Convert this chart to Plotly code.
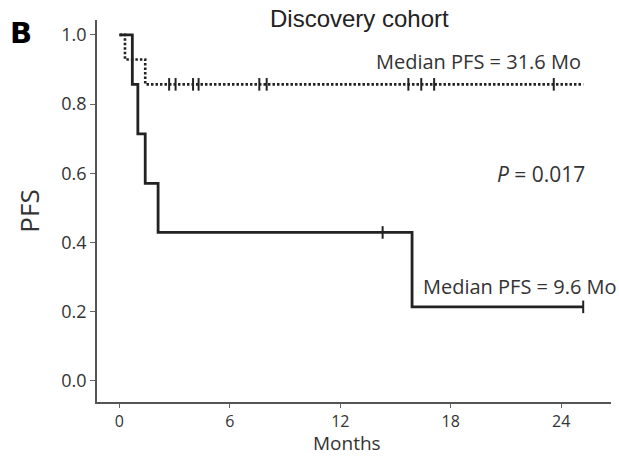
import plotly.graph_objects as go

# Kaplan-Meier step data (months, PFS)
solid_times = [0, 0.7, 1.0, 1.4, 2.1, 15.9, 25.2]
solid_surv = [1.0, 0.857, 0.714, 0.571, 0.429, 0.214, 0.214]
solid_censor_times = [14.3, 25.2]
solid_censor_surv = [0.429, 0.214]

dotted_times = [0, 0.3, 1.4, 25.2]
dotted_surv = [1.0, 0.929, 0.857, 0.857]
dotted_censor_times = [2.7, 3.05, 4.0, 4.3, 7.6, 8.0, 15.7, 16.4, 17.1, 23.6]
dotted_censor_surv = [0.857] * len(dotted_censor_times)

x_ticks = [0, 6, 12, 18, 24]
y_ticks = [0.0, 0.2, 0.4, 0.6, 0.8, 1.0]

FONT = "Open Sans"
INK = "#222222"

fig = go.Figure()
fig.add_trace(go.Scatter(x=dotted_times, y=dotted_surv, mode="lines", line_shape="hv",
                         line=dict(color=INK, width=2.6, dash="2.5px,2px"), showlegend=False))
fig.add_trace(go.Scatter(x=dotted_censor_times, y=dotted_censor_surv, mode="markers",
                         marker=dict(symbol="line-ns-open", size=9, color=INK,
                                     line=dict(color=INK, width=2)),
                         showlegend=False))
fig.add_trace(go.Scatter(x=solid_times, y=solid_surv, mode="lines", line_shape="hv",
                         line=dict(color=INK, width=2.8), showlegend=False))
fig.add_trace(go.Scatter(x=solid_censor_times, y=solid_censor_surv, mode="markers",
                         marker=dict(symbol="line-ns-open", size=9, color=INK,
                                     line=dict(color=INK, width=2)),
                         showlegend=False))

fig.update_layout(
    width=619, height=456,
    margin=dict(l=97, r=8, t=20, b=54),
    paper_bgcolor="white", plot_bgcolor="white",
    font=dict(family=FONT, color="#333333"),
    xaxis=dict(range=[-1.22, 26.71], tickvals=x_ticks, ticktext=[str(v) for v in x_ticks],
               automargin=False,
               showline=True, linecolor="#555555", linewidth=1.5, showgrid=False, zeroline=False,
               ticks="outside", ticklen=4, tickwidth=1, tickcolor="#666666",
               tickfont=dict(size=16, family=FONT, color="#333333")),
    yaxis=dict(range=[-0.061, 1.043], tickvals=y_ticks, ticktext=[f"{v:.1f}" for v in y_ticks],
               automargin=False,
               showline=True, linecolor="#555555", linewidth=1.5, showgrid=False, zeroline=False,
               ticks="outside", ticklen=5, tickwidth=1, tickcolor="#666666",
               tickfont=dict(size=18, family=FONT, color="#333333"),
               title=dict(text="PFS", font=dict(size=26, family=FONT, color="#333333"), standoff=14)),
)

fig.add_annotation(text="Months", xref="paper", yref="paper", x=(347-97)/514, y=0,
                   yshift=-41, xanchor="center", yanchor="middle", showarrow=False,
                   font=dict(size=19, family=FONT, color="#333333"))
fig.add_annotation(text="Discovery cohort", xref="paper", yref="paper", x=(359-97)/514, y=1,
                   yshift=2, xanchor="center", yanchor="middle", showarrow=False,
                   font=dict(size=24, family="Liberation Sans", color="#222222"))
fig.add_annotation(text="<b>B</b>", xref="paper", yref="paper", x=-89/514, y=1,
                   yshift=6, xanchor="left", yanchor="top", showarrow=False,
                   font=dict(size=29, family="DejaVu Sans", color="#000000"))
fig.add_annotation(text="Median PFS = 31.6 Mo", x=25.2, y=0.923, xanchor="right", yanchor="middle",
                   showarrow=False, font=dict(size=20, family=FONT, color="#333333"))
fig.add_annotation(text="Median PFS = 9.6 Mo", x=16.4, y=0.2725, xanchor="left", yanchor="middle",
                   showarrow=False, font=dict(size=20, family=FONT, color="#333333"))
fig.add_annotation(text="<i>P</i> = 0.017", x=25.4, y=0.598, xanchor="right", yanchor="middle",
                   showarrow=False, font=dict(size=21, family=FONT, color="#333333"))

fig.write_html("out.html")
